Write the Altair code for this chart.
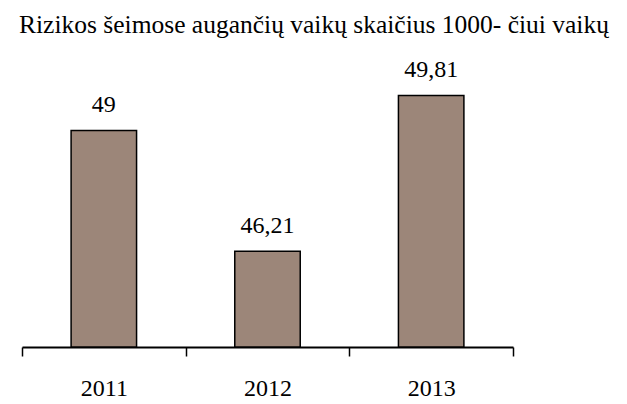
import altair as alt
import pandas as pd

years = ["2011", "2012", "2013"]
values = [49, 46.21, 49.81]
labels = ["49", "46,21", "49,81"]
title_text = "Rizikos  šeimose augančių vaikų skaičius 1000- čiui vaikų"

df = pd.DataFrame({"year": years, "value": values, "label": labels})

FONT = "Liberation Serif"

base = alt.Chart(df).encode(
    x=alt.X(
        "year:N",
        sort=None,
        scale=alt.Scale(paddingInner=0, paddingOuter=0),
        axis=alt.Axis(
            title=None,
            labelAngle=0,
            domainColor="black",
            domainWidth=2,
            tickColor="black",
            tickWidth=1.5,
            tickSize=9,
            tickBand="extent",
            labelFontSize=24,
            labelFont=FONT,
            labelColor="black",
            labelPadding=39,
            labelBaseline="alphabetic",
        ),
    ),
    y=alt.Y(
        "value:Q",
        scale=alt.Scale(domain=[44, 50.5], zero=False, nice=False, clamp=True),
        axis=None,
    ),
)

bars = base.mark_bar(
    color="#9c8679", stroke="black", strokeWidth=1.5,
    width=alt.RelativeBandSize(0.4),
)
text = base.mark_text(
    dy=-18, baseline="alphabetic", fontSize=24, font=FONT, color="black"
).encode(text="label:N")

chart = (
    (bars + text)
    .properties(
        width=491,
        height=281.5,
        title=alt.Title(
            title_text,
            font=FONT,
            fontSize=25.5,
            fontWeight="normal",
            color="black",
            anchor="middle",
            dx=46.5,
            offset=20,
        ),
        autosize="none",
        padding={"left": 14, "top": 57.5, "right": 106, "bottom": 49},
    )
    .configure_view(stroke=None)
)

chart.save("out.html", embed_options={"renderer": "svg", "actions": False})
